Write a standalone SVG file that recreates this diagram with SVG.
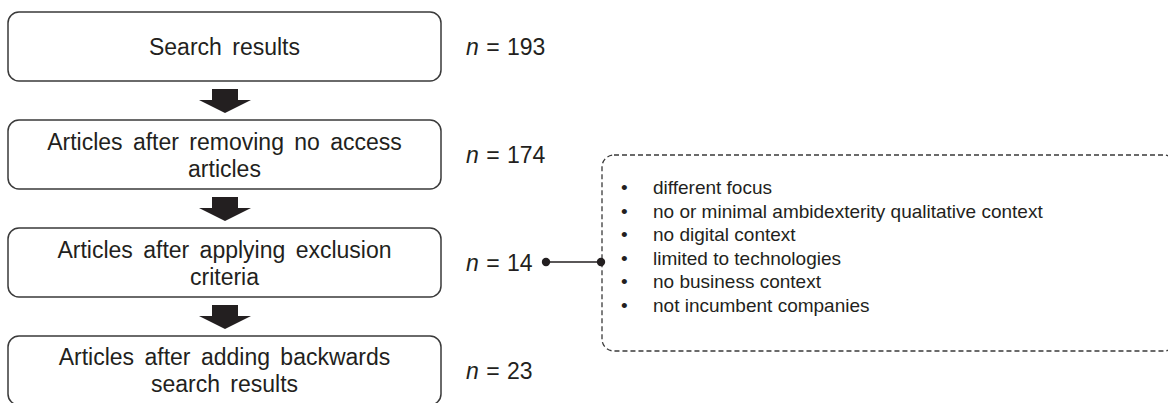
<svg xmlns="http://www.w3.org/2000/svg" width="1168" height="403" viewBox="0 0 1168 403">
<style>
.box{fill:#fff;stroke:#3a3a3a;stroke-width:1.5}
.t{font-family:"Liberation Sans",Arial,sans-serif;font-size:23px;fill:#231f20;word-spacing:4px}
.n{font-family:"Liberation Sans",Arial,sans-serif;font-size:23px;fill:#231f20;word-spacing:1px}
.c{text-anchor:middle}
.l{font-family:"Liberation Sans",Arial,sans-serif;font-size:19px;fill:#231f20}
.arrow{fill:#231f20}
.dash{fill:none;stroke:#3a3a3a;stroke-width:1.3;stroke-dasharray:5 3}
</style>
<rect width="1168" height="403" fill="#fff"/>
<g id="node1">
<rect class="box" x="8" y="12" width="433" height="69" rx="11"/>
<text class="t c" x="224.5" y="55">Search results</text>
</g>
<g id="n1"><text class="n" x="466" y="55"><tspan font-style="italic">n</tspan> = 193</text></g>
<g id="node2">
<rect class="box" x="8" y="120" width="433" height="69" rx="11"/>
<text class="t c" x="224.5" y="149.5">Articles after removing no access</text>
<text class="t c" x="224.5" y="176.5">articles</text>
</g>
<g id="n2"><text class="n" x="466" y="163"><tspan font-style="italic">n</tspan> = 174</text></g>
<g id="node3">
<rect class="box" x="8" y="228" width="433" height="69" rx="11"/>
<text class="t c" x="224.5" y="257.5">Articles after applying exclusion</text>
<text class="t c" x="224.5" y="284.5">criteria</text>
</g>
<g id="n3"><text class="n" x="466" y="271"><tspan font-style="italic">n</tspan> = 14</text></g>
<g id="node4">
<rect class="box" x="8" y="336" width="433" height="69" rx="11"/>
<text class="t c" x="224.5" y="365">Articles after adding backwards</text>
<text class="t c" x="224.5" y="392">search results</text>
</g>
<g id="n4"><text class="n" x="466" y="379"><tspan font-style="italic">n</tspan> = 23</text></g>
<g id="criteria">
<rect class="dash" x="602" y="155" width="574" height="196" rx="12"/>
<g class="l">
<text x="621" y="194">•</text><text x="653" y="194">different focus</text>
<text x="621" y="217.5">•</text><text x="653" y="217.5">no or minimal ambidexterity qualitative context</text>
<text x="621" y="241">•</text><text x="653" y="241">no digital context</text>
<text x="621" y="264.5">•</text><text x="653" y="264.5">limited to technologies</text>
<text x="621" y="288">•</text><text x="653" y="288">no business context</text>
<text x="621" y="311.5">•</text><text x="653" y="311.5">not incumbent companies</text>
</g>
</g>
<g id="connectors">
<path class="arrow" d="M212 89 H238 V100 H251 L225 113 L199 100 H212 Z"/>
<path class="arrow" d="M212 197 H238 V208 H251 L225 221 L199 208 H212 Z"/>
<path class="arrow" d="M212 305 H238 V316 H251 L225 329 L199 316 H212 Z"/>
<line x1="546" y1="262" x2="602" y2="262" stroke="#231f20" stroke-width="1.6"/>
<circle cx="546" cy="262" r="4.2" fill="#231f20"/>
<circle cx="601" cy="262" r="4.2" fill="#231f20"/>
</g>
</svg>
